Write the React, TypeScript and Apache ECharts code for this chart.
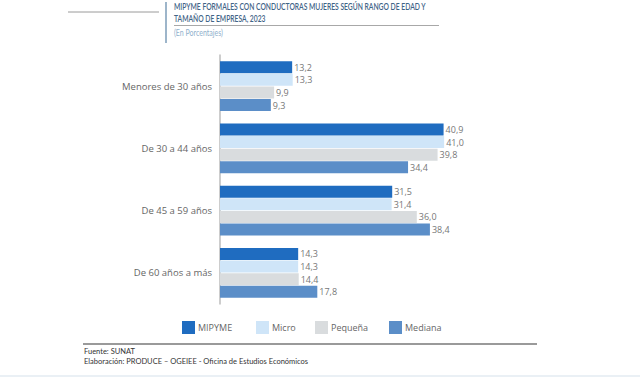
import React, { useEffect, useRef } from "react";
import * as echarts from "echarts";

const categories = ["Menores de 30 años", "De 30 a 44 años", "De 45 a 59 años", "De 60 años a más"];
const seriesNames = ["MIPYME", "Micro", "Pequeña", "Mediana"];
const mipyme = [13.2, 40.9, 31.5, 14.3];
const micro = [13.3, 41.0, 31.4, 14.3];
const pequena = [9.9, 39.8, 36.0, 14.4];
const mediana = [9.3, 34.4, 38.4, 17.8];
const colors = ["#1f6cc0", "#cfe5f8", "#d9dcde", "#5b8ec8"];

const titleLine1 = "MIPYME FORMALES CON CONDUCTORAS MUJERES SEGÚN RANGO DE EDAD Y";
const titleLine2 = "TAMAÑO DE EMPRESA, 2023";
const subtitle = "(En Porcentajes)";
const source1 = "Fuente: SUNAT";
const source2 = "Elaboración: PRODUCE – OGEIEE - Oficina de Estudios Económicos";

export default function App() {
  const ref = useRef<HTMLDivElement>(null);
  useEffect(() => {
    if (!ref.current) return;
    const chart = echarts.init(ref.current, null, { renderer: "svg" });
    const font = "Open Sans";
    const values = [mipyme, micro, pequena, mediana];
    const legendLefts = [182, 256, 315, 389];
    chart.setOption({
      animation: false,
      backgroundColor: "#ffffff",
      textStyle: { fontFamily: font },
      grid: { left: 220, top: 55, width: 246, height: 249 },
      xAxis: { type: "value", min: 0, max: 45, show: false },
      yAxis: {
        type: "category",
        data: categories,
        inverse: true,
        axisLine: { show: true, lineStyle: { color: "#bdbdbd", width: 1.5 } },
        axisTick: { show: false },
        axisLabel: { color: "#666", fontSize: 9.5, margin: 8, fontFamily: font },
      },
      legend: seriesNames.map((n, i) => ({
        left: legendLefts[i],
        top: 321,
        padding: 0,
        itemWidth: 13,
        itemHeight: 13,
        itemGap: 0,
        icon: "rect",
        textStyle: { color: "#666", fontSize: 9, fontFamily: font, padding: [0, 0, 0, -2] },
        data: [n],
      })),
      series: seriesNames.map((n, i) => ({
        name: n,
        type: "bar",
        data: values[i],
        itemStyle: { color: colors[i] },
        barCategoryGap: "20%",
        barGap: "6%",
        label: {
          show: true,
          position: "right",
          distance: 2,
          color: "#777",
          fontSize: 9,
          fontFamily: font,
          formatter: (p: any) => p.value.toFixed(1).replace(".", ","),
        },
      })),
      graphic: [
        { type: "line", shape: { x1: 68, y1: 12, x2: 159, y2: 12 }, style: { stroke: "#9a9a9a", lineWidth: 1 } },
        { type: "line", shape: { x1: 166, y1: 2, x2: 166, y2: 43 }, style: { stroke: "#7d9cb8", lineWidth: 1.5 } },
        { type: "line", shape: { x1: 174, y1: 25.5, x2: 439, y2: 25.5 }, style: { stroke: "#a8a8a8", lineWidth: 1.2 } },
        { type: "text", x: 174, y: 7, scaleX: 0.71, style: { text: titleLine1, fill: "#3f6487", font: "600 9.5px Lato", textVerticalAlign: "middle" } },
        { type: "text", x: 174, y: 18.5, scaleX: 0.71, style: { text: titleLine2, fill: "#3f6487", font: "600 9.5px Lato", textVerticalAlign: "middle" } },
        { type: "text", x: 174, y: 33, scaleX: 0.74, style: { text: subtitle, fill: "#8fb0cc", font: "9.5px Lato", textVerticalAlign: "middle" } },
        { type: "line", shape: { x1: 83, y1: 344, x2: 537, y2: 344 }, style: { stroke: "#9a9a9a", lineWidth: 2 } },
        { type: "text", x: 84, y: 351, style: { text: source1, fill: "#333", font: "7.5px Lato", textVerticalAlign: "middle" } },
        { type: "text", x: 84, y: 361, style: { text: source2, fill: "#333", font: "7.5px Lato", textVerticalAlign: "middle" } },
        { type: "line", shape: { x1: 0, y1: 376, x2: 640, y2: 376 }, style: { stroke: "#e3ebf2", lineWidth: 1.5 } },
      ],
    });
    return () => chart.dispose();
  }, []);
  return <div ref={ref} style={{ position: "fixed", left: 0, top: 0, width: 640, height: 377 }} />;
}
